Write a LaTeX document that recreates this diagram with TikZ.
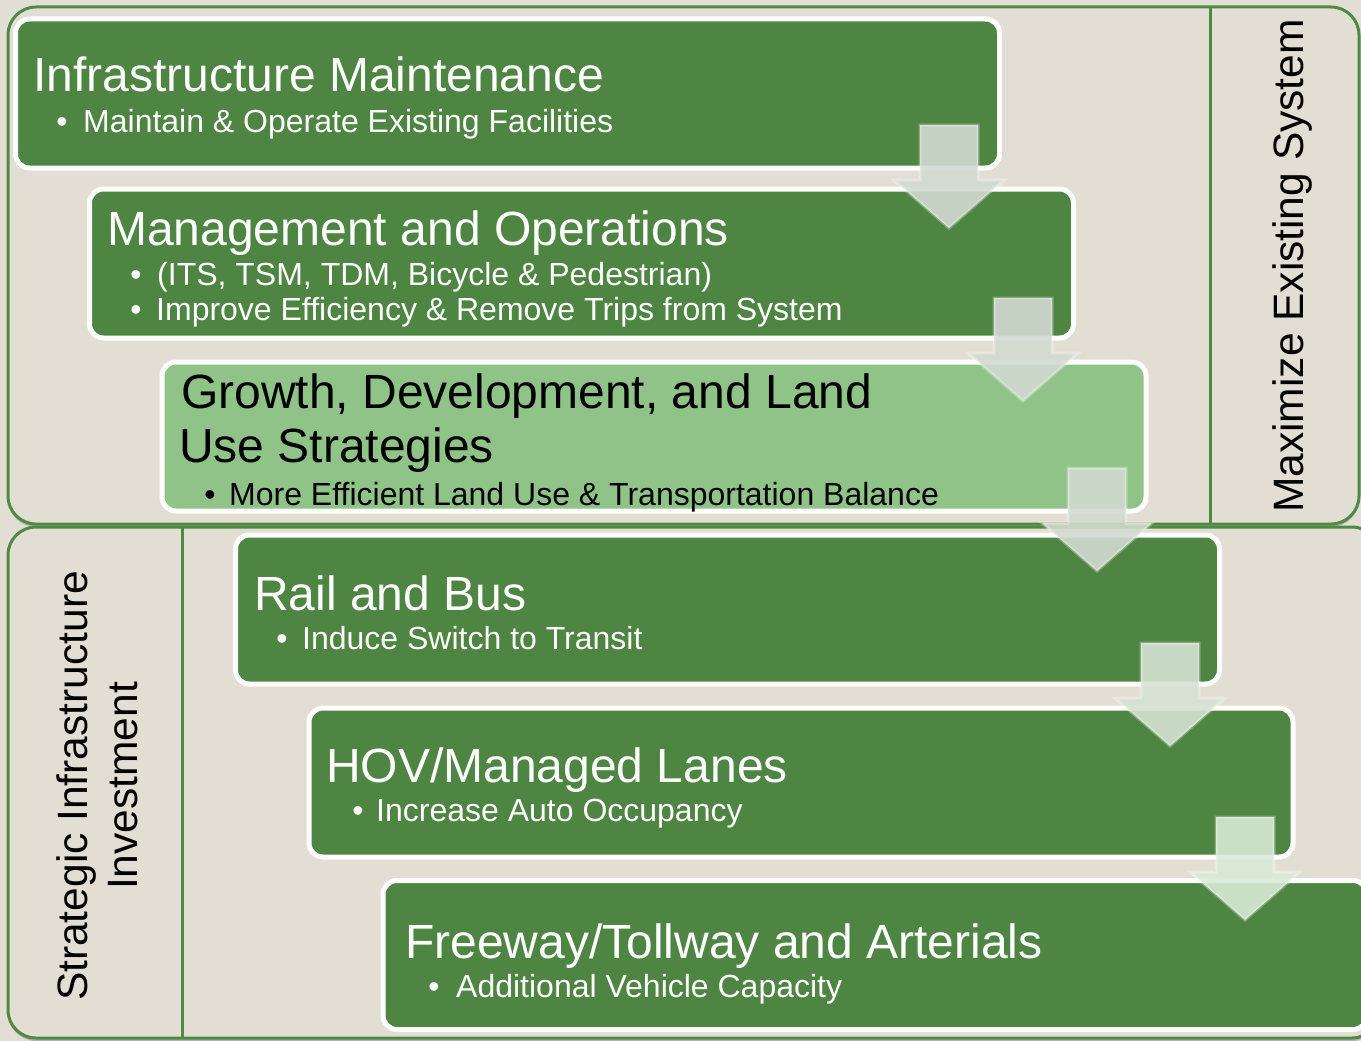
\documentclass[tikz,border=0pt]{standalone}
\usepackage{fontspec}
\setmainfont{Liberation Sans}
\usetikzlibrary{shadows}
\definecolor{bg}{HTML}{E3DED4}
\definecolor{dkgreen}{HTML}{4F8543}
\definecolor{ltgreen}{HTML}{8FC387}
\definecolor{panelline}{HTML}{4E8A45}
\definecolor{arrowA}{HTML}{D2DAD0}
\definecolor{arrowB}{HTML}{D5E2D3}
\definecolor{arrowC}{HTML}{D9E9D6}
\begin{document}
\begin{tikzpicture}[x=1pt,y=-1pt,
  box/.style={draw=white, line width=5pt, rounded corners=14pt, anchor=north west, outer sep=0pt,
    minimum width=984pt, minimum height=149pt, inner sep=0pt, fill=#1},
  ttl/.style={anchor=base west, inner sep=0pt, font=\fontsize{48}{54}\selectfont, text=#1},
  btxt/.style={anchor=base west, inner sep=0pt, font=\fontsize{32}{38}\selectfont, text=#1},
  bdot/.style={anchor=base, inner sep=0pt, font=\fontsize{32}{38}\selectfont, text=#1},
  side/.style={inner sep=0pt, font=\fontsize{42.5}{50}\selectfont, rotate=90, align=center},
  panel/.style={draw=panelline, line width=3pt, rounded corners=28pt, fill=bg,
    drop shadow={shadow xshift=0pt, shadow yshift=-3pt, opacity=0.3, fill=black!70}},
  blockarrow/.style={fill=#1, fill opacity=0.9, draw=white, draw opacity=0.3, line width=3pt, line join=miter}
]
\path[use as bounding box, fill=bg] (0,0) rectangle (1361,1041);
\clip (0,0) rectangle (1361,1041);

% panels
\draw[panel] (8,7) rectangle (1359,524);
\draw[panel] (8,527) rectangle (1380,1038);
\draw[panelline, line width=3pt] (1210,7) -- (1210,524);
\draw[panelline, line width=3pt] (182,527) -- (182,1038);

\node[side] (maxsys) at (1292,266) {Maximize Existing System};
\node[side] (strat) at (97,786) {Strategic Infrastructure\\Investment};

% boxes
\node[box=dkgreen] (b1) at (15.5,19) {};
\node[box=dkgreen] (b2) at (89.5,189) {};
\node[box=ltgreen] (b3) at (162,362) {};
\node[box=dkgreen] (b4) at (235.5,535) {};
\node[box=dkgreen] (b5) at (309,708) {};
\node[box=dkgreen] (b6) at (383,880.5) {};

% texts
\node[ttl=white] (t1) at (33,92) {Infrastructure Maintenance};
\node[bdot=white] (d1) at (62,132) {\textbullet};
\node[btxt=white] (s1) at (83,132) {Maintain \& Operate Existing Facilities};

\node[ttl=white] (t2) at (107,245) {Management and Operations};
\node[bdot=white] (d2a) at (136,285) {\textbullet};
\node[btxt=white] (s2a) at (157,285) {(ITS, TSM, TDM, Bicycle \& Pedestrian)};
\node[bdot=white] (d2b) at (136,320) {\textbullet};
\node[btxt=white] (s2b) at (156,320) {Improve Efficiency \& Remove Trips from System};

\node[ttl=black] (t3a) at (181,408) {Growth, Development, and Land};
\node[ttl=black] (t3b) at (179,462) {Use Strategies};
\node[bdot=black] (d3) at (210,505) {\textbullet};
\node[btxt=black] (s3) at (229,505) {More Efficient Land Use \& Transportation Balance};

\node[ttl=white] (t4) at (254,610) {Rail and Bus};
\node[bdot=white] (d4) at (282,649) {\textbullet};
\node[btxt=white] (s4) at (302,649) {Induce Switch to Transit};

\node[ttl=white] (t5) at (326,782) {HOV/Managed Lanes};
\node[bdot=white] (d5) at (358,821) {\textbullet};
\node[btxt=white] (s5) at (376,821) {Increase Auto Occupancy};

\node[ttl=white] (t6) at (405,958) {Freeway/Tollway and Arterials};
\node[bdot=white] (d6) at (434,997) {\textbullet};
\node[btxt=white] (s6) at (456,997) {Additional Vehicle Capacity};

% block arrows
\foreach \cx/\t/\c in {949/125/arrowA, 1023/298/arrowA, 1097/468/arrowA, 1170/643/arrowB, 1245/817/arrowC}{
  \path[blockarrow=\c] (\cx-29,\t) -- (\cx+29,\t) -- (\cx+29,\t+55) -- (\cx+55,\t+55)
     -- (\cx,\t+103) -- (\cx-55,\t+55) -- (\cx-29,\t+55) -- cycle;
}
\end{tikzpicture}
\end{document}
